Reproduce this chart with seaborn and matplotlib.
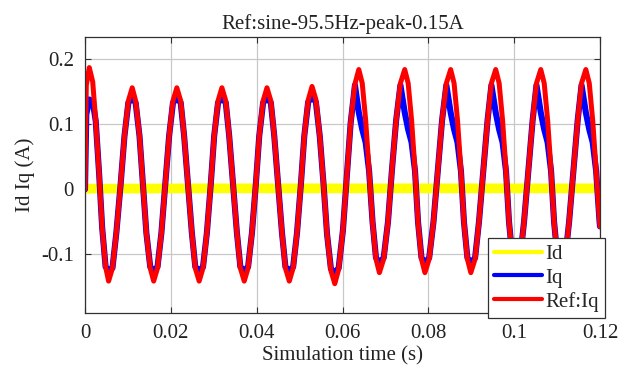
import matplotlib
matplotlib.use("Agg")
import matplotlib.pyplot as plt
import seaborn as sns
import pandas as pd

# ---- data ----
title = "Ref:sine-95.5Hz-peak-0.15A"
x_label = "Simulation time (s)"
y_label = "Id Iq (A)"
x_ticks = [0, 0.02, 0.04, 0.06, 0.08, 0.1, 0.12]
x_tick_labels = ["0", "0.02", "0.04", "0.06", "0.08", "0.1", "0.12"]
y_ticks = [-0.1, 0, 0.1, 0.2]
y_tick_labels = ["-0.1", "0", "0.1", "0.2"]
series_names = ["Id", "Iq", "Ref:Iq"]

# sample times (s), one row per half cycle
t = [
    0.0000, 0.0003, 0.0010,
    0.0018, 0.0025, 0.0033, 0.0040, 0.0048, 0.0055,
    0.0064, 0.0073, 0.0083, 0.0092, 0.0101, 0.0110,
    0.0118, 0.0127, 0.0135, 0.0143, 0.0152, 0.0160,
    0.0169, 0.0178, 0.0187, 0.0196, 0.0205, 0.0214,
    0.0223, 0.0231, 0.0240, 0.0249, 0.0257, 0.0266,
    0.0275, 0.0284, 0.0293, 0.0301, 0.0310, 0.0319,
    0.0328, 0.0336, 0.0345, 0.0354, 0.0362, 0.0371,
    0.0380, 0.0389, 0.0398, 0.0406, 0.0415, 0.0424,
    0.0433, 0.0441, 0.0450, 0.0459, 0.0467, 0.0476,
    0.0485, 0.0494, 0.0503, 0.0511, 0.0520, 0.0529,
    0.0538, 0.0547, 0.0556, 0.0564, 0.0573, 0.0582,
    0.0591, 0.0601, 0.0610, 0.0619, 0.0629, 0.0638,
    0.0646, 0.0654, 0.0662, 0.0670, 0.0678, 0.0686,
    0.0696, 0.0706, 0.0715, 0.0725, 0.0735, 0.0745,
    0.0753, 0.0761, 0.0769, 0.0776, 0.0784, 0.0792,
    0.0802, 0.0812, 0.0822, 0.0832, 0.0842, 0.0852,
    0.0860, 0.0868, 0.0876, 0.0883, 0.0891, 0.0899,
    0.0909, 0.0918, 0.0928, 0.0938, 0.0947, 0.0957,
    0.0965, 0.0973, 0.0981, 0.0988, 0.0996, 0.1004,
    0.1014, 0.1023, 0.1033, 0.1043, 0.1052, 0.1062,
    0.1070, 0.1078, 0.1086, 0.1093, 0.1101, 0.1109,
    0.1119, 0.1128, 0.1138, 0.1148, 0.1157, 0.1167,
    0.1175, 0.1183, 0.1191, 0.1199, 0.1200,
]

# reference current Ref:Iq (A)
ref_iq = [
    0.000, 0.160, 0.187,
    0.165, 0.105, 0.023, -0.059, -0.119, -0.141,
    -0.121, -0.067, 0.0075, 0.082, 0.136, 0.156,
    0.136, 0.082, 0.0075, -0.067, -0.121, -0.141,
    -0.121, -0.067, 0.0075, 0.082, 0.136, 0.156,
    0.136, 0.082, 0.0075, -0.067, -0.121, -0.141,
    -0.121, -0.067, 0.0075, 0.082, 0.136, 0.156,
    0.136, 0.082, 0.0075, -0.067, -0.121, -0.141,
    -0.121, -0.067, 0.0075, 0.082, 0.136, 0.156,
    0.136, 0.082, 0.0075, -0.067, -0.121, -0.141,
    -0.121, -0.067, 0.0075, 0.082, 0.137, 0.158,
    0.138, 0.082, 0.0065, -0.069, -0.125, -0.145,
    -0.123, -0.063, 0.0195, 0.102, 0.162, 0.184,
    0.163, 0.106, 0.028, -0.050, -0.107, -0.128,
    -0.107, -0.050, 0.028, 0.106, 0.163, 0.184,
    0.163, 0.106, 0.028, -0.050, -0.107, -0.128,
    -0.107, -0.050, 0.028, 0.106, 0.163, 0.184,
    0.163, 0.106, 0.028, -0.050, -0.107, -0.128,
    -0.107, -0.050, 0.028, 0.106, 0.163, 0.184,
    0.163, 0.106, 0.028, -0.050, -0.107, -0.128,
    -0.107, -0.050, 0.028, 0.106, 0.163, 0.184,
    0.163, 0.106, 0.028, -0.050, -0.107, -0.128,
    -0.107, -0.050, 0.028, 0.106, 0.163, 0.184,
    0.163, 0.106, 0.028, -0.050, -0.057,
]

# measured current Iq (A)
iq = [
    0.000, 0.115, 0.138,
    0.135, 0.105, 0.023, -0.059, -0.119, -0.124,
    -0.121, -0.067, 0.0075, 0.082, 0.133, 0.140,
    0.133, 0.082, 0.0075, -0.067, -0.119, -0.125,
    -0.119, -0.067, 0.0075, 0.082, 0.133, 0.140,
    0.133, 0.082, 0.0075, -0.067, -0.119, -0.125,
    -0.119, -0.067, 0.0075, 0.082, 0.133, 0.140,
    0.133, 0.082, 0.0075, -0.067, -0.119, -0.125,
    -0.119, -0.067, 0.0075, 0.082, 0.133, 0.140,
    0.133, 0.082, 0.0075, -0.067, -0.119, -0.125,
    -0.119, -0.067, 0.0075, 0.082, 0.134, 0.142,
    0.134, 0.082, 0.0065, -0.069, -0.122, -0.128,
    -0.121, -0.063, 0.0195, 0.102, 0.160, 0.118,
    0.092, 0.072, 0.028, -0.050, -0.105, -0.113,
    -0.105, -0.050, 0.028, 0.106, 0.160, 0.118,
    0.092, 0.072, 0.028, -0.050, -0.105, -0.113,
    -0.105, -0.050, 0.028, 0.106, 0.160, 0.118,
    0.092, 0.072, 0.028, -0.050, -0.105, -0.113,
    -0.105, -0.050, 0.028, 0.106, 0.160, 0.118,
    0.092, 0.072, 0.028, -0.050, -0.105, -0.113,
    -0.105, -0.050, 0.028, 0.106, 0.160, 0.118,
    0.092, 0.072, 0.028, -0.050, -0.105, -0.113,
    -0.105, -0.050, 0.028, 0.106, 0.160, 0.118,
    0.092, 0.072, 0.028, -0.050, -0.057,
]

# d-axis current Id (A): flat near zero
id_t = [0.0, 0.03, 0.06, 0.09, 0.12]
id_v = [0.001, 0.0015, 0.0015, 0.0015, 0.0015]

colors = {"Id": "#FFFF00", "Iq": "#0000FF", "Ref:Iq": "#FF0000"}
widths = {"Id": 7.0, "Iq": 4.4, "Ref:Iq": 3.6}

df_id = pd.DataFrame({"t": id_t, "v": id_v})
df_iq = pd.DataFrame({"t": t, "v": iq})
df_ref = pd.DataFrame({"t": t, "v": ref_iq})

sns.set_theme(style="white")
plt.rcParams["font.family"] = ["Liberation Serif", "DejaVu Serif"]

fig = plt.figure(figsize=(6.24, 3.74), dpi=100)
ax = fig.add_axes([85 / 624, 1 - 313 / 374, 515 / 624, 276 / 374])

for name, d in zip(series_names, [df_id, df_iq, df_ref]):
    sns.lineplot(data=d, x="t", y="v", ax=ax, color=colors[name],
                 linewidth=widths[name], label=name, sort=False,
                 estimator=None, solid_joinstyle="round",
                 solid_capstyle="round")

ax.set_xlim(0, 0.12)
ax.set_ylim(-0.19, 0.234)
ax.set_xticks(x_ticks)
ax.set_xticklabels(x_tick_labels)
ax.set_yticks(y_ticks)
ax.set_yticklabels(y_tick_labels)
ax.grid(True, color="#c8c8c8", linewidth=0.9)
ax.set_axisbelow(True)
for s in ax.spines.values():
    s.set_visible(True)
    s.set_color("#303030")
    s.set_linewidth(0.9)
ax.tick_params(direction="in", length=4, width=0.8, colors="#303030",
               labelcolor="#222222", labelsize=15, top=True, right=True,
               bottom=True, left=True, pad=8)
ax.set_xlabel(x_label, fontsize=15, color="#222222", labelpad=2)
ax.set_ylabel(y_label, fontsize=15, color="#222222", labelpad=4)
ax.set_title(title, fontsize=15, color="#222222", pad=6)

leg = ax.legend(loc="lower right", bbox_to_anchor=(605 / 624, 1 - 318 / 374),
                bbox_transform=fig.transFigure, borderaxespad=0,
                fontsize=15, frameon=True, fancybox=False, framealpha=1,
                edgecolor="#303030", handlelength=2.3, handletextpad=0.15,
                labelspacing=0.2, borderpad=0.3)
leg.get_frame().set_linewidth(0.9)
for line in leg.get_lines():
    line.set_linewidth(3.0)

fig.savefig("out.png", dpi=100)
